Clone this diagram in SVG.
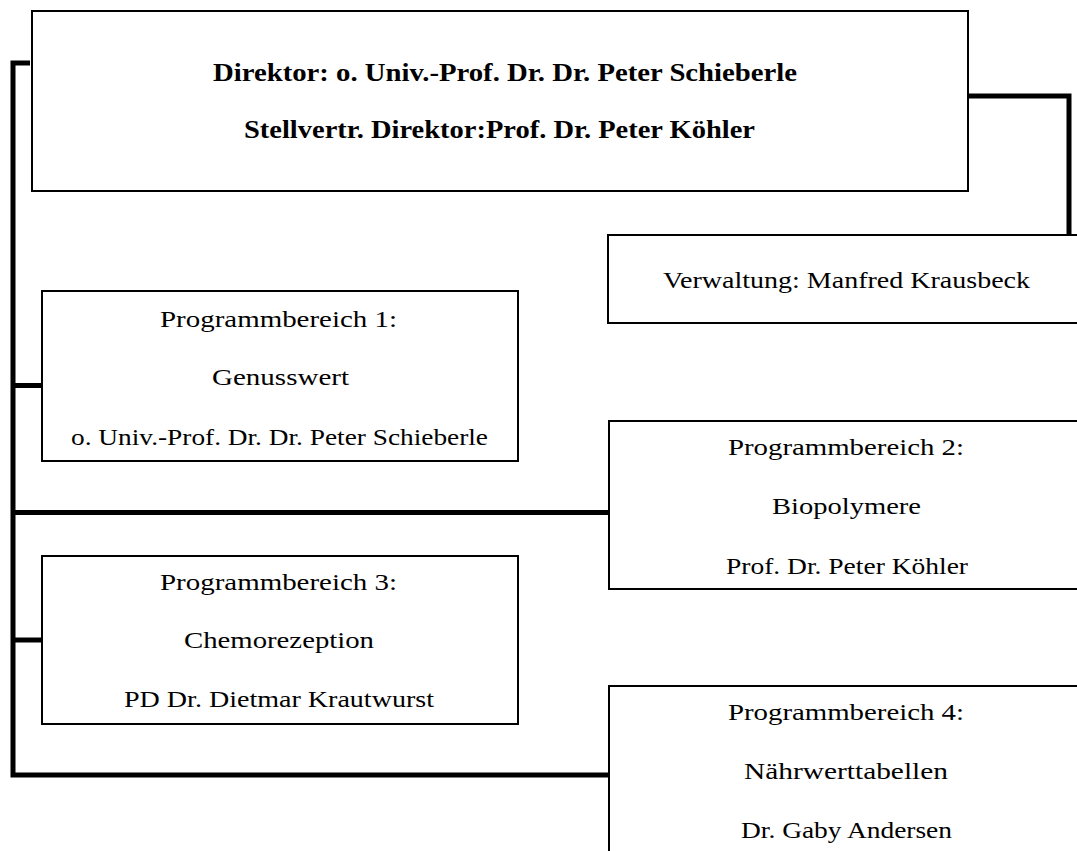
<svg xmlns="http://www.w3.org/2000/svg" width="1077" height="851" viewBox="0 0 1077 851">
<style>
.box{fill:#fff;stroke:#000;stroke-width:2}
.con{fill:none;stroke:#000;stroke-width:5;stroke-linejoin:miter;stroke-linecap:butt}
text{font-family:"Liberation Serif","DejaVu Serif",serif;fill:#000}
.b{font-size:26px;font-weight:bold}
.r{font-size:23px}
</style>
<rect width="1077" height="851" fill="#fff"/>
<g id="connectors">
<path class="con" d="M30,63 H13 V775 H610"/>
<path class="con" d="M13,385.5 H42"/>
<path class="con" d="M13,512.5 H610"/>
<path class="con" d="M13,640 H42"/>
<path class="con" d="M968,96 H1069 V235"/>
</g>
<g id="direktor">
<rect class="box" x="32" y="11" width="936" height="180"/>
<text class="b" x="213" y="81" textLength="584" lengthAdjust="spacingAndGlyphs">Direktor: o. Univ.-Prof. Dr. Dr. Peter Schieberle</text>
<text class="b" x="244" y="138" textLength="511" lengthAdjust="spacingAndGlyphs">Stellvertr. Direktor:Prof. Dr. Peter Köhler</text>
</g>
<g id="verwaltung">
<rect class="box" x="608" y="235" width="480" height="88"/>
<text class="r" x="663" y="288" textLength="367" lengthAdjust="spacingAndGlyphs">Verwaltung: Manfred Krausbeck</text>
</g>
<g id="pb1">
<rect class="box" x="42" y="291" width="476" height="170"/>
<text class="r" x="160" y="327" textLength="237" lengthAdjust="spacingAndGlyphs">Programmbereich 1:</text>
<text class="r" x="212" y="385" textLength="137" lengthAdjust="spacingAndGlyphs">Genusswert</text>
<text class="r" x="71" y="445" textLength="417" lengthAdjust="spacingAndGlyphs">o. Univ.-Prof. Dr. Dr. Peter Schieberle</text>
</g>
<g id="pb2">
<rect class="box" x="609" y="421" width="480" height="168"/>
<text class="r" x="728" y="455" textLength="236" lengthAdjust="spacingAndGlyphs">Programmbereich 2:</text>
<text class="r" x="772" y="514" textLength="149" lengthAdjust="spacingAndGlyphs">Biopolymere</text>
<text class="r" x="726" y="574" textLength="242" lengthAdjust="spacingAndGlyphs">Prof. Dr. Peter Köhler</text>
</g>
<g id="pb3">
<rect class="box" x="42" y="556" width="476" height="168"/>
<text class="r" x="160" y="590" textLength="237" lengthAdjust="spacingAndGlyphs">Programmbereich 3:</text>
<text class="r" x="184" y="648" textLength="190" lengthAdjust="spacingAndGlyphs">Chemorezeption</text>
<text class="r" x="124" y="707" textLength="310" lengthAdjust="spacingAndGlyphs">PD Dr. Dietmar Krautwurst</text>
</g>
<g id="pb4">
<rect class="box" x="609" y="686" width="480" height="190"/>
<text class="r" x="728" y="720" textLength="236" lengthAdjust="spacingAndGlyphs">Programmbereich 4:</text>
<text class="r" x="744" y="779" textLength="204" lengthAdjust="spacingAndGlyphs">Nährwerttabellen</text>
<text class="r" x="741" y="838" textLength="211" lengthAdjust="spacingAndGlyphs">Dr. Gaby Andersen</text>
</g>
</svg>
